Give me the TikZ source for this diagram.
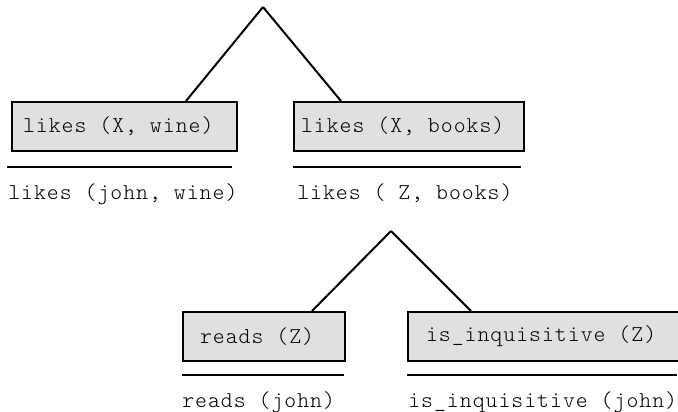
\documentclass[tikz,border=0pt]{standalone}
\usepackage{fontspec}
\setmonofont{Latin Modern Mono Light}[LetterSpace=4.4]
\usetikzlibrary{calc}
\begin{document}
\begin{tikzpicture}[x=0.75pt,y=-0.75pt,font=\ttfamily\fontsize{17pt}{19pt}\selectfont]
			\useasboundingbox (0,0) rectangle (678,411);
			\tikzset{goalbox/.style={draw,fill=black!12,line width=1.5pt,minimum height=36.75pt,anchor=north west,inner ysep=0pt},
				rule/.style={line width=1.5pt},
				branch/.style={line width=1.5pt}}
			
			\begin{scope}[every node/.style={goalbox}]
				\node[inner xsep=8.25pt] (likesW) at (11,101) {\makebox[152.25pt][l]{likes (X, wine)}};
				\node[inner xsep=5.25pt] (likesB) at (293,101) {\makebox[162pt][l]{likes (X, books)}};
				\node[inner xsep=12.75pt] (reads) at (182,311) {\makebox[96pt][l]{reads (Z)}};
				\node[inner xsep=13.5pt] (inq) at (407,311) {\makebox[195pt][l]{is\_inquisitive (Z)}};
			\end{scope}
			
			\coordinate (top) at (263,7);
			\coordinate (mid) at (391,231);
			
			\begin{scope}[every path/.style={branch}]
				\draw (top) -- ($(likesW.north west)+(175,0)$);
				\draw (top) -- ($(likesB.north west)+(48,0)$);
				\draw (mid) -- ($(reads.north west)+(130,0)$);
				\draw (mid) -- ($(inq.north west)+(64,0)$);
			\end{scope}
			
			% unifier rules
			\draw[rule] (7,167) -- (232,167);
			\draw[rule] (293,167) -- (521,167);
			\draw[rule] (182,375) -- (344,375);
			\draw[rule] (407,375) -- (677,375);
			
			\begin{scope}[every node/.style={anchor=base west,inner sep=0pt}]
				\node (factW) at (8,199) {likes (john, wine)};
				\node (factB) at (297,199) {likes ( Z, books)};
				\node (factR) at (182,407) {reads (john)};
				\node (factI) at (408,407) {is\_inquisitive (john)};
			\end{scope}
		\end{tikzpicture}
\end{document}
